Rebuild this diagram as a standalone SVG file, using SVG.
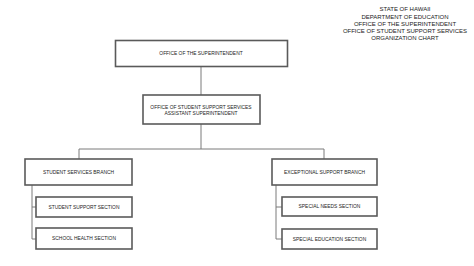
<svg xmlns="http://www.w3.org/2000/svg" width="474" height="266" viewBox="0 0 474 266">
<style>
.box{fill:#fff;stroke:#5a5a5a;stroke-width:1.6}
.t{font-family:"Liberation Sans",Arial,sans-serif;font-size:4.9px;fill:#222;text-anchor:middle}
.h{font-family:"Liberation Sans",Arial,sans-serif;font-size:6px;fill:#222;text-anchor:middle}
.c{fill:none;stroke:#7a7a7a;stroke-width:1}
</style>
<rect width="474" height="266" fill="#fff"/>
<g id="title">
<text class="h" x="405" y="11.2">STATE OF HAWAII</text>
<text class="h" x="405" y="18.5">DEPARTMENT OF EDUCATION</text>
<text class="h" x="405" y="25.8">OFFICE OF THE SUPERINTENDENT</text>
<text class="h" x="405" y="33.1">OFFICE OF STUDENT SUPPORT SERVICES</text>
<text class="h" x="405" y="40.4">ORGANIZATION CHART</text>
</g>
<g id="connectors">
<path class="c" d="M201 66V95M201 124V149M79 149H324M79 149V159M324 149V159"/>
<path class="c" d="M32 185V239M32 207H36M32 239H36"/>
<path class="c" d="M276 185V239M276 207H282M276 239H282"/>
</g>
<g id="n-super">
<rect class="box" x="115.5" y="40.5" width="172" height="26"/>
<text class="t" x="201" y="55">OFFICE OF THE SUPERINTENDENT</text>
</g>
<g id="n-ossss">
<rect class="box" x="143" y="95" width="117" height="29"/>
<text class="t" x="201" y="108.8">OFFICE OF STUDENT SUPPORT SERVICES</text>
<text class="t" x="201" y="114.8">ASSISTANT SUPERINTENDENT</text>
</g>
<g id="n-ssb">
<rect class="box" x="25" y="159" width="107" height="26"/>
<text class="t" x="78.5" y="173.8">STUDENT SERVICES BRANCH</text>
</g>
<g id="n-sss">
<rect class="box" x="36" y="197" width="96" height="20"/>
<text class="t" x="84" y="208.8">STUDENT SUPPORT SECTION</text>
</g>
<g id="n-shs">
<rect class="box" x="36" y="228" width="96" height="21"/>
<text class="t" x="84" y="240.3">SCHOOL HEALTH SECTION</text>
</g>
<g id="n-esb">
<rect class="box" x="272" y="159" width="105" height="26"/>
<text class="t" x="324.5" y="173.8">EXCEPTIONAL SUPPORT BRANCH</text>
</g>
<g id="n-sns">
<rect class="box" x="282" y="197" width="95" height="19"/>
<text class="t" x="329.5" y="208.3">SPECIAL NEEDS SECTION</text>
</g>
<g id="n-ses">
<rect class="box" x="282" y="229" width="95" height="20"/>
<text class="t" x="329.5" y="240.8">SPECIAL EDUCATION SECTION</text>
</g>
</svg>
